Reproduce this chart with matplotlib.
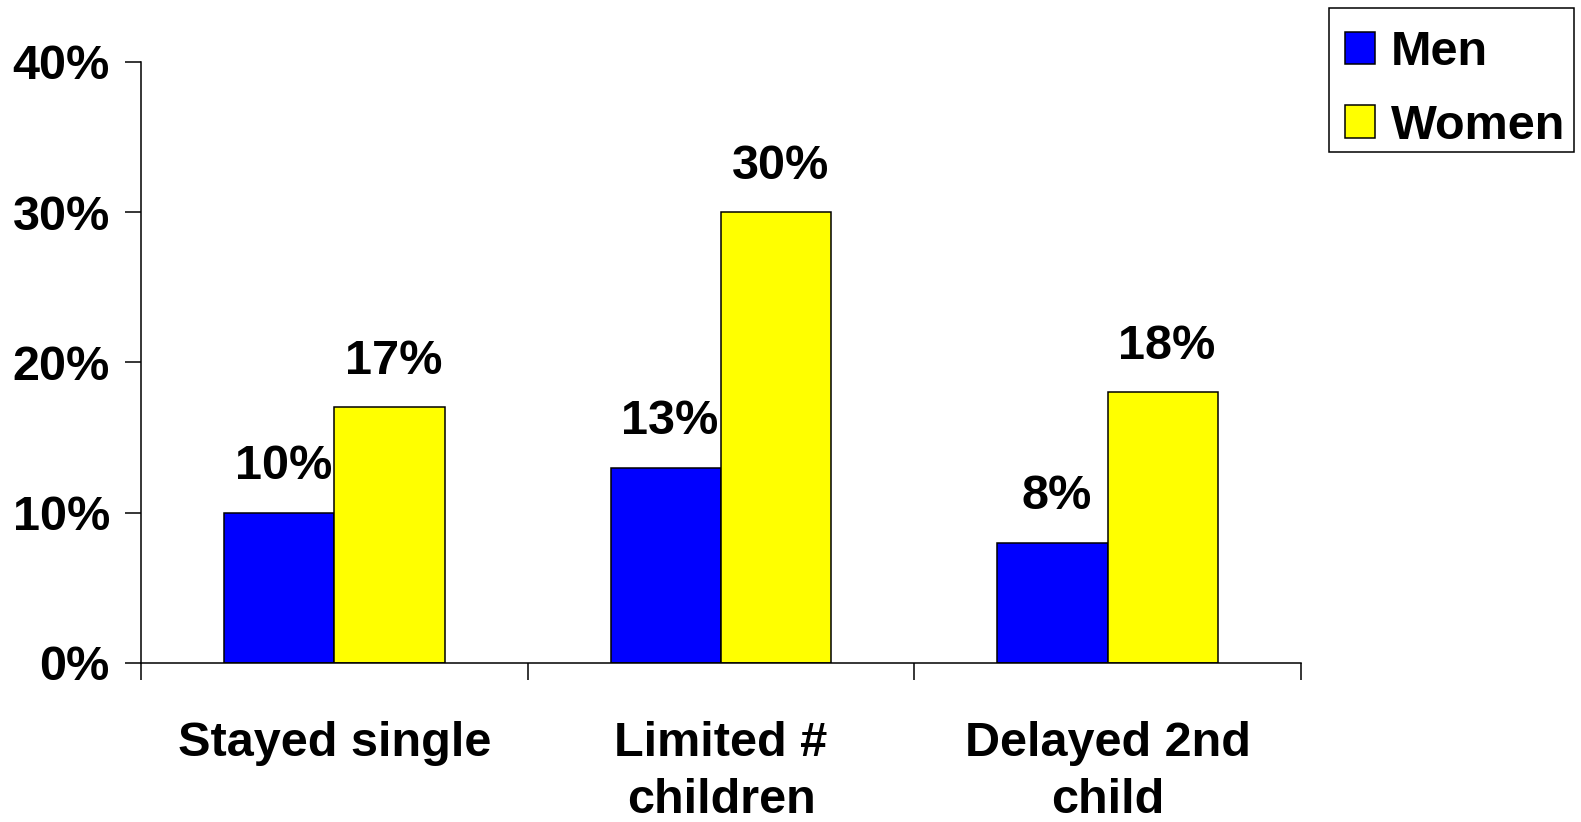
import numpy as np
import matplotlib
matplotlib.use('Agg')
import matplotlib.pyplot as plt
from matplotlib.patches import Rectangle

categories = ['Stayed single', 'Limited #\nchildren', 'Delayed 2nd\nchild']
men = [10, 13, 8]
women = [17, 30, 18]
yticks = [0, 10, 20, 30, 40]

plt.rcParams['font.family'] = ['Liberation Sans', 'DejaVu Sans']
plt.rcParams['font.weight'] = 'bold'
fs = 35

W, H = 1581, 822
fig = plt.figure(figsize=(W/100, H/100), dpi=100)
ax = fig.add_axes([141/W, 1 - 663/H, (1301 - 141)/W, (663 - 61.7)/H])

x = np.arange(len(categories))
w = 0.285
b1 = ax.bar(x - w/2, men, w, color='#0000ff', edgecolor='black', linewidth=1.1, label='Men')
b2 = ax.bar(x + w/2, women, w, color='#ffff00', edgecolor='black', linewidth=1.1, label='Women')

for bars, vals in ((b1, men), (b2, women)):
    for r, v in zip(bars, vals):
        ax.annotate('%d%%' % v, (r.get_x() + r.get_width()/2, v),
                    xytext=(3, 24), textcoords='offset points',
                    ha='center', va='baseline', fontsize=fs, fontweight='bold')

ax.set_xlim(-0.5, 2.5)
ax.set_ylim(0, 40)
ax.set_yticks(yticks)
ax.set_yticklabels(['%d%%' % t for t in yticks])
ax.set_xticks([-0.5, 0.5, 1.5, 2.5])
ax.set_xticklabels([])
ax.set_xticks(x, minor=True)
ax.set_xticklabels(categories, minor=True)
for lbl in ax.get_xticklabels(minor=True):
    lbl.set_linespacing(1.33)
ax.tick_params(axis='x', which='major', direction='out', length=12, width=1.1)
ax.tick_params(axis='x', which='minor', length=0, pad=42, labelsize=fs)
ax.tick_params(axis='y', direction='out', length=11.5, width=1.1, pad=11, labelsize=fs)

for s in ['top', 'right']:
    ax.spines[s].set_visible(False)
for s in ['left', 'bottom']:
    ax.spines[s].set_linewidth(1.1)

# legend entries without frame, box drawn separately
leg = ax.legend(loc='upper left', bbox_to_anchor=(1345/W, 1 - 30/H),
                bbox_transform=fig.transFigure, borderaxespad=0,
                frameon=False, fontsize=fs, handlelength=0.62, handleheight=0.66,
                handletextpad=0.32, borderpad=0, labelspacing=0.59)
fig.patches.append(Rectangle((1329/W, 1 - 152/H), 245/W, 144/H,
                             transform=fig.transFigure, fill=False,
                             edgecolor='black', linewidth=1.1))

fig.savefig('out.png', dpi=100)
